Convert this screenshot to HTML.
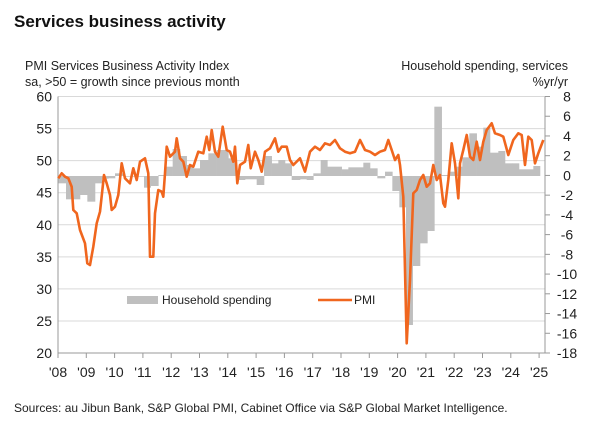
<!DOCTYPE html>
<html><head><meta charset="utf-8"><style>
html,body{margin:0;padding:0;background:#fff;}
body{width:600px;height:439px;overflow:hidden;position:relative;font-family:"Liberation Sans",sans-serif;}
svg{position:absolute;left:0;top:0;}
</style></head><body>
<svg id="s" width="600" height="439" xmlns="http://www.w3.org/2000/svg" font-family="Liberation Sans, sans-serif">
<text x="14" y="27" font-size="17" font-weight="bold" fill="#111">Services business activity</text>
<text x="25" y="70" font-size="12.5" fill="#222">PMI Services Business Activity Index</text>
<text x="25" y="86" font-size="12.5" fill="#222">sa, &gt;50 = growth since previous month</text>
<text x="568" y="70" font-size="12.5" fill="#222" text-anchor="end">Household spending, services</text>
<text x="568" y="86" font-size="12.5" fill="#222" text-anchor="end">%yr/yr</text>
<text x="14" y="412" font-size="12" fill="#222">Sources: au Jibun Bank, S&amp;P Global PMI, Cabinet Office via S&amp;P Global Market Intelligence.</text>
<g id="g"></g>
</svg>
<script>
(function(){
var g=document.getElementById('g'),h='';
var T=96.5,B=353,L=58,R=545;
for(var i=0;i<=8;i++){var y=T+i*(B-T)/8;
 h+='<line x1="'+L+'" x2="'+R+'" y1="'+y+'" y2="'+y+'" stroke="#d9d9d9" stroke-width="1"/>';
 h+='<text x="'+(L-6)+'" y="'+(y+5)+'" font-size="14" fill="#222" text-anchor="end">'+(60-5*i)+'</text>';}
for(var i=0;i<=13;i++){var y=T+i*(B-T)/13;
 h+='<line x1="'+R+'" x2="'+(R+5)+'" y1="'+y+'" y2="'+y+'" stroke="#999"/>';
 h+='<text x="'+(R+22)+'" y="'+(y+5)+'" font-size="14" fill="#222" text-anchor="middle">'+(8-2*i)+'</text>';}
function bar(x0,x1,zy,off){var a=off+x0/3,b=off+x1/3,y0=176,y1=80+zy/3;
 h+='<rect x="'+a+'" width="'+(b-a+0.3)+'" y="'+Math.min(y0,y1)+'" height="'+Math.abs(y1-y0)+'" fill="#bfbfbf"/>';}
var b1=[[175,198,310],[198,240,358],[240,262,345],[262,285,365],[285,305,310],[305,325,296],[325,345,295],[345,370,280],[370,390,290],[390,432,290],[432,452,323],[452,475,318],[475,495,285],[495,518,260],[518,540,207],[540,560,228],[560,580,255],[580,600,265],[600,625,240],[625,650,220],[650,685,210],[685,710,235],[710,735,300],[735,770,298],[770,792,315],[792,815,228],[815,835,250],[835,855,240],[855,875,250],[875,900,300]];
var b2=[[0,20,298],[20,40,300],[40,62,280],[62,82,240],[82,125,260],[125,145,268],[145,190,262],[190,210,248],[210,232,265],[232,255,295],[255,277,275],[277,298,333],[298,318,382],[318,338,735],[338,360,558],[360,382,490],[382,403,453],[403,425,80],[425,445,285],[445,465,275],[465,487,260],[487,508,232],[508,530,160],[530,550,200],[550,570,143],[570,595,218],[595,615,213],[615,637,250],[637,657,250],[657,700,268],[700,720,258]];
b1.forEach(function(r){bar(r[0],r[1],r[2],0)});b2.forEach(function(r){bar(r[0],r[1],r[2],300)});
h+='<line x1="'+L+'" x2="'+L+'" y1="'+T+'" y2="'+B+'" stroke="#999"/>';
h+='<line x1="'+R+'" x2="'+R+'" y1="'+T+'" y2="'+B+'" stroke="#999"/>';
h+='<line x1="'+L+'" x2="'+R+'" y1="'+B+'" y2="'+B+'" stroke="#999"/>';
for(var i=0;i<=17;i++){var x=L+i*28.3;
 h+='<line x1="'+x+'" x2="'+x+'" y1="'+B+'" y2="'+(B+5)+'" stroke="#999"/>';
 h+='<text x="'+x+'" y="'+(B+24)+'" font-size="14" fill="#222" text-anchor="middle">\''+String(8+i).padStart(2,'0')+'</text>';}
var p1=[[175,295],[185,280],[195,290],[205,295],[215,320],[220,390],[230,400],[240,450],[255,490],[262,550],[270,555],[280,500],[290,430],[300,395],[312,285],[320,310],[330,345],[335,390],[345,380],[355,345],[365,250],[375,295],[390,310],[400,265],[410,300],[420,245],[435,235],[445,280],[450,530],[460,530],[465,400],[475,330],[485,335],[490,350],[495,280],[500,200],[510,230],[525,215],[530,175],[540,235],[550,245],[560,290],[570,255],[580,260],[595,215],[610,220],[620,170],[628,210],[635,150],[645,215],[655,230],[668,140],[680,210],[690,215],[700,245],[705,200],[712,310],[720,255],[735,245],[745,195],[752,265],[765,215],[775,240],[785,275],[795,215],[810,205],[825,175],[835,215],[845,200],[860,200],[870,240],[880,255],[900,235]];
var p2=[[15,275],[30,215],[45,200],[60,210],[75,190],[90,195],[105,180],[120,205],[135,215],[150,220],[165,215],[180,180],[195,210],[210,215],[225,225],[240,215],[255,210],[265,180],[275,210],[285,240],[295,225],[300,255],[310,350],[320,790],[330,600],[340,340],[350,330],[360,300],[370,285],[380,320],[390,310],[400,255],[410,300],[420,285],[430,370],[435,380],[445,300],[455,190],[465,250],[475,355],[480,250],[490,210],[500,165],[510,230],[520,240],[530,185],[540,240],[550,185],[560,150],[575,130],[585,160],[600,165],[610,170],[625,225],[640,180],[655,160],[665,165],[675,255],[685,170],[695,180],[705,250],[715,220],[730,180]];
var pts=p1.map(function(p){return (p[0]/3).toFixed(1)+','+(80+p[1]/3).toFixed(1)}).concat(p2.map(function(p){return (300+p[0]/3).toFixed(1)+','+(80+p[1]/3).toFixed(1)}));
h+='<polyline points="'+pts.join(' ')+'" fill="none" stroke="#f0661e" stroke-width="2.6" stroke-linejoin="round"/>';
h+='<rect x="127" y="296" width="31" height="8" fill="#bfbfbf"/><text x="162" y="304" font-size="12" fill="#222">Household spending</text>';
h+='<line x1="318" x2="352" y1="300" y2="300" stroke="#f0661e" stroke-width="2.6"/><text x="354" y="304" font-size="12" fill="#222">PMI</text>';
g.innerHTML=h;
})();
</script>
</body></html>
